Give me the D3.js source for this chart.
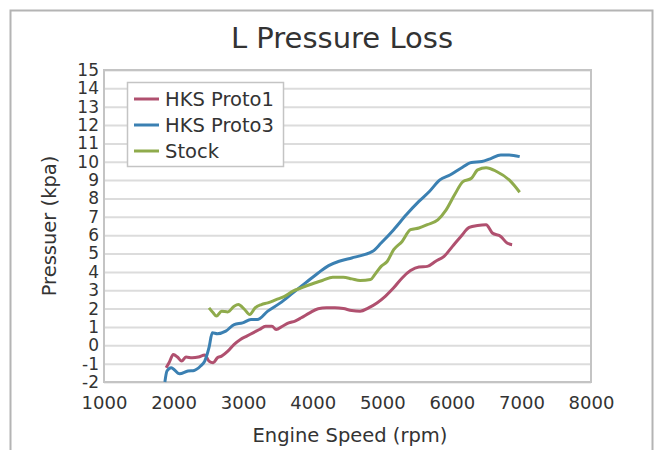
<!DOCTYPE html>
<html>
<head>
<meta charset="utf-8">
<script src="https://cdn.jsdelivr.net/npm/d3@7"></script>
<style>
  body { margin: 0; background: #fff; }
  text { font-family: "DejaVu Sans", Verdana, sans-serif; fill: #333; }
</style>
</head>
<body>
<script>
// series data (rpm, kpa)
var proto1 = [
  [1893,-1.22],[1935,-0.95],[1996,-0.5],[2056,-0.64],[2116,-0.86],[2177,-0.64],
  [2267,-0.68],[2358,-0.64],[2448,-0.53],[2509,-0.86],[2569,-0.95],[2630,-0.68],
  [2690,-0.59],[2780,-0.32],[2871,0.05],[2961,0.32],[3052,0.5],[3142,0.68],
  [3233,0.86],[3323,1.04],[3414,1.04],[3474,0.86],[3565,1.04],[3655,1.22],
  [3746,1.32],[3836,1.5],[3957,1.77],[4078,1.99],[4198,2.04],[4319,2.04],
  [4440,2.0],[4561,1.89],[4681,1.86],[4802,2.04],[4923,2.31],[5043,2.67],
  [5164,3.13],[5285,3.67],[5406,4.07],[5526,4.27],[5647,4.3],[5768,4.58],
  [5888,4.85],[6009,5.39],[6130,5.93],[6250,6.42],[6371,6.53],[6492,6.57],
  [6582,6.12],[6703,5.93],[6794,5.57],[6866,5.48]
];
var proto3 = [
  [1875,-2.0],[1905,-1.4],[1966,-1.22],[2086,-1.55],[2207,-1.4],[2297,-1.37],
  [2388,-1.13],[2448,-0.86],[2509,-0.13],[2557,0.68],[2630,0.63],[2750,0.77],
  [2871,1.13],[2992,1.22],[3112,1.4],[3203,1.4],[3354,1.86],[3535,2.31],
  [3716,2.86],[3897,3.4],[4078,3.94],[4229,4.34],[4380,4.58],[4561,4.76],
  [4742,4.94],[4862,5.12],[4983,5.57],[5164,6.3],[5345,7.11],[5526,7.84],
  [5677,8.38],[5828,9.01],[5979,9.29],[6130,9.65],[6281,9.96],[6431,10.01],
  [6552,10.16],[6703,10.37],[6824,10.37],[6975,10.28]
];
var stock = [
  [2509,2.04],[2569,1.77],[2617,1.59],[2690,1.86],[2780,1.82],[2871,2.13],
  [2931,2.22],[3021,1.95],[3094,1.68],[3172,2.04],[3263,2.22],[3354,2.31],
  [3474,2.49],[3595,2.67],[3716,2.95],[3836,3.13],[3987,3.34],[4138,3.53],
  [4289,3.71],[4440,3.71],[4561,3.62],[4681,3.53],[4832,3.58],[4892,3.85],
  [4983,4.3],[5073,4.58],[5164,5.21],[5285,5.66],[5406,6.3],[5526,6.39],
  [5647,6.57],[5798,6.84],[5918,7.38],[6039,8.2],[6160,8.92],[6281,9.1],
  [6371,9.56],[6492,9.68],[6643,9.47],[6824,9.01],[6975,8.34]
];
var seriesNames = ["HKS Proto1", "HKS Proto3", "Stock"];
var seriesColors = ["#b0506f", "#3b80b2", "#8fab4c"];
var xTicks = [1000, 2000, 3000, 4000, 5000, 6000, 7000, 8000];
var yTicks = d3.range(-2, 16);

var width = 655, height = 450;
var mLeft = 104, mRight = 591, mTop = 70, mBottom = 382;

var svg = d3.select("body").append("svg")
    .attr("width", width)
    .attr("height", height);

// outer frame (bottom runs off the picture)
svg.append("rect")
    .attr("x", 10.5).attr("y", 10.5)
    .attr("width", 642).attr("height", 470)
    .attr("fill", "#fff")
    .attr("stroke", "#b4b4b4")
    .attr("stroke-width", 2);

var x = d3.scaleLinear().domain([1000, 8000]).range([mLeft, mRight]);
var y = d3.scaleLinear().domain([-2, 15]).range([mBottom, mTop]);

// grid
svg.append("g")
    .attr("transform", "translate(" + mLeft + ",0)")
    .call(d3.axisLeft(y).tickValues(yTicks).tickSize(-(mRight - mLeft)).tickFormat(""))
    .call(function(g) {
      g.select(".domain").remove();
      g.selectAll("line").attr("stroke", "#dcdcdc").attr("stroke-width", 2);
    });

// plot border
svg.append("rect")
    .attr("x", mLeft).attr("y", mTop)
    .attr("width", mRight - mLeft).attr("height", mBottom - mTop)
    .attr("fill", "none")
    .attr("stroke", "#c4c4c4")
    .attr("stroke-width", 2);

// y tick labels (plain hyphen for negatives, like the original)
svg.append("g")
    .attr("transform", "translate(" + mLeft + ",0)")
    .call(d3.axisLeft(y).tickValues(yTicks).tickSize(0).tickPadding(5)
      .tickFormat(function(d) { return String(d); }))
    .call(function(g) {
      g.select(".domain").remove();
      g.selectAll("text").attr("font-size", 17).attr("fill", "#333")
        .attr("font-family", "DejaVu Sans, sans-serif");
    });

// x tick labels
svg.append("g")
    .attr("transform", "translate(0," + mBottom + ")")
    .call(d3.axisBottom(x).tickValues(xTicks).tickSize(0).tickPadding(14)
      .tickFormat(function(d) { return String(d); }))
    .call(function(g) {
      g.select(".domain").remove();
      g.selectAll("text").attr("font-size", 18).attr("fill", "#333")
        .attr("font-family", "DejaVu Sans, sans-serif");
    });

// lines
var line = d3.line()
    .x(function(d) { return x(d[0]); })
    .y(function(d) { return y(d[1]); })
    .curve(d3.curveMonotoneX);

[proto1, proto3, stock].forEach(function(s, i) {
  svg.append("path")
      .datum(s)
      .attr("d", line)
      .attr("fill", "none")
      .attr("stroke", seriesColors[i])
      .attr("stroke-width", 3)
      .attr("stroke-linejoin", "round");
});

// titles
svg.append("text")
    .attr("x", 342).attr("y", 48)
    .attr("text-anchor", "middle")
    .attr("font-size", 29)
    .text("L Pressure Loss");

svg.append("text")
    .attr("x", 350).attr("y", 442)
    .attr("text-anchor", "middle")
    .attr("font-size", 19.5)
    .text("Engine Speed (rpm)");

svg.append("text")
    .attr("transform", "translate(56,226) rotate(-90)")
    .attr("text-anchor", "middle")
    .attr("font-size", 19.5)
    .text("Pressuer (kpa)");

// legend
var legend = svg.append("g");
legend.append("rect")
    .attr("x", 127.5).attr("y", 82.5)
    .attr("width", 156).attr("height", 84)
    .attr("fill", "#fff")
    .attr("stroke", "#c4c4c4")
    .attr("stroke-width", 1.5);

seriesNames.forEach(function(name, i) {
  var ly = 99 + i * 26;
  legend.append("line")
      .attr("x1", 134).attr("x2", 159)
      .attr("y1", ly).attr("y2", ly)
      .attr("stroke", seriesColors[i])
      .attr("stroke-width", 3);
  legend.append("text")
      .attr("x", 165).attr("y", ly)
      .attr("dy", "0.35em")
      .attr("font-size", 19.5)
      .text(name);
});
</script>
</body>
</html>
